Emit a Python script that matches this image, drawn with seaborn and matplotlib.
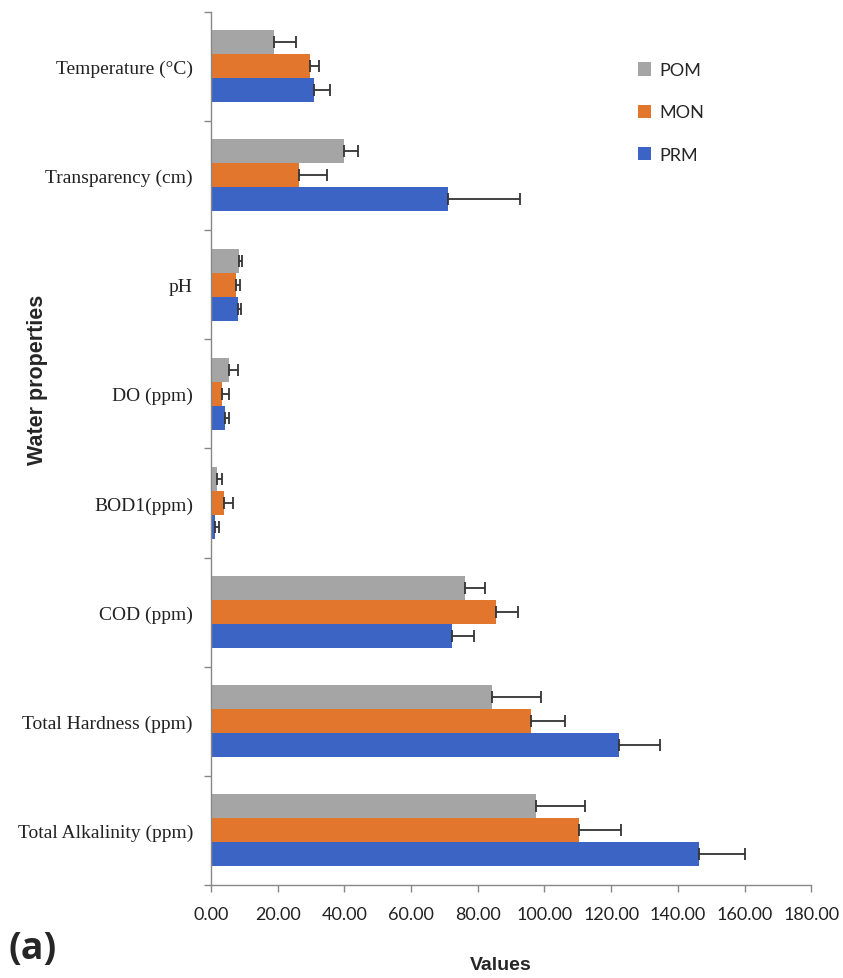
import numpy as np
import pandas as pd
import matplotlib
matplotlib.use("Agg")
import matplotlib.pyplot as plt
import seaborn as sns

# ── Data ─────────────────────────────────────────────────────
properties = [
    "Temperature (°C)", "Transparency (cm)", "pH", "DO (ppm)",
    "BOD1(ppm)", "COD (ppm)", "Total Hardness (ppm)", "Total Alkalinity (ppm)",
]
seasons = ["POM", "MON", "PRM"]

pom_mean = [19.0, 39.8, 8.3, 5.4, 1.8, 76.3, 84.3, 97.5]
mon_mean = [29.6, 26.3, 7.6, 3.3, 3.8, 85.5, 95.9, 110.5]
prm_mean = [31.0, 71.0, 8.0, 4.2, 1.1, 72.3, 122.5, 146.3]

pom_err = [6.6, 4.4, 1.0, 2.6, 1.6, 6.0, 14.7, 14.6]
mon_err = [2.8, 8.4, 1.0, 2.2, 2.9, 6.7, 10.4, 12.6]
prm_err = [4.8, 21.8, 1.0, 1.3, 1.3, 6.6, 12.2, 13.8]

ticks_x = [0, 20, 40, 60, 80, 100, 120, 140, 160, 180]

colors = {"POM": "#A5A5A5", "MON": "#E2762D", "PRM": "#3B64C4"}

means = {"POM": pom_mean, "MON": mon_mean, "PRM": prm_mean}
errs = {"POM": pom_err, "MON": mon_err, "PRM": prm_err}

df = pd.DataFrame({
    "property": properties * 3,
    "season": np.repeat(seasons, len(properties)),
    "value": pom_mean + mon_mean + prm_mean,
})

sns.set_theme(style="white")
plt.rcParams["font.family"] = ["Liberation Serif", "DejaVu Serif"]

fig = plt.figure(figsize=(8.43, 9.79), dpi=100)
ax = fig.add_axes([0.2503, 0.095, 0.712, 0.892])

sns.barplot(
    data=df, x="value", y="property", hue="season",
    order=properties, hue_order=seasons, palette=colors,
    orient="h", width=0.66, errorbar=None, saturation=1,
    linewidth=0, ax=ax,
)

# error bars, drawn one-sided from the mean outward
for season, container in zip(seasons, ax.containers):
    for bar, m, e in zip(container, means[season], errs[season]):
        yc = bar.get_y() + bar.get_height() / 2
        ax.errorbar(m, yc, xerr=[[0], [e]], fmt="none", ecolor="#333333",
                    elinewidth=1.3, capsize=4.5, capthick=1.3)

# ── Axes styling ─────────────────────────────────────────────
ax.set_xlim(0, 180)
ax.set_ylim(len(properties) - 0.5, -0.5)
ax.set_xticks(ticks_x)
ax.set_xticklabels([f"{t:.2f}" for t in ticks_x], family=["Lato", "DejaVu Sans"],
                   fontsize=13, color="#222222")
ax.set_yticks(range(len(properties)))
ax.set_yticklabels(properties, fontsize=14, color="#222222")
ax.set_yticks(np.arange(-0.5, len(properties), 1), minor=True)
ax.tick_params(axis="y", which="major", length=0, pad=13)
ax.tick_params(axis="y", which="minor", length=5, width=1, color="#888888", left=True)
ax.tick_params(axis="x", which="major", length=5, width=1, color="#888888",
               bottom=True, pad=10)

for side in ["top", "right"]:
    ax.spines[side].set_visible(False)
for side in ["left", "bottom"]:
    ax.spines[side].set_color("#888888")
    ax.spines[side].set_linewidth(1)

ax.set_xlabel("")
ax.set_ylabel("")

# ── Legend ───────────────────────────────────────────────────
handles, labels = ax.get_legend_handles_labels()
ax.get_legend().remove()
fig.legend(handles, labels, loc="upper left", bbox_to_anchor=(0.737, 0.952),
           frameon=False, handlelength=0.75, handleheight=0.75,
           handletextpad=0.45, labelspacing=1.45,
           prop={"family": ["Lato", "DejaVu Sans"], "size": 13})

# ── Titles / labels ──────────────────────────────────────────
fig.text(0.045, 0.612, "Water properties", rotation=90, ha="center", va="center",
         fontsize=15.5, fontweight="bold",
         family=["Liberation Sans Narrow", "Liberation Sans", "DejaVu Sans"])
fig.text(0.594, 0.014, "Values", ha="center", va="center", fontsize=14,
         fontweight="bold", family=["Liberation Sans", "DejaVu Sans"])
fig.text(0.010, 0.031, "(a)", ha="left", va="center", fontsize=27,
         fontweight="bold", family=["Open Sans", "DejaVu Sans"])

fig.savefig("out.png", dpi=100)
